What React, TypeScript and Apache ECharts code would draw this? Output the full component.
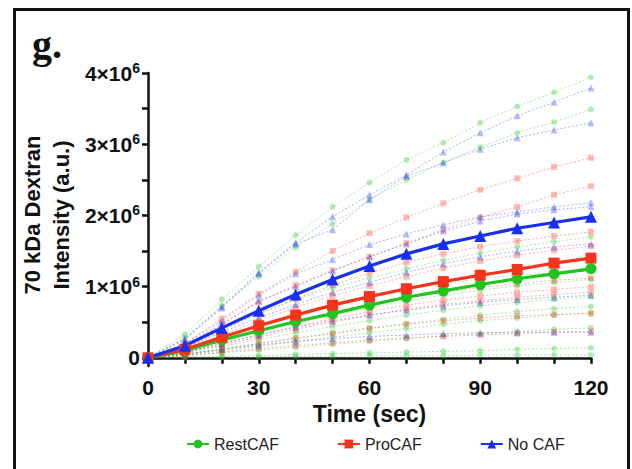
import React, { useEffect, useRef } from "react";
import * as echarts from "echarts";

// time points (sec)
const TIME = [0, 10, 20, 30, 40, 50, 60, 70, 80, 90, 100, 110, 120];
// values in millions (×10^6 a.u.)
const UNIT = 1e6;

const REST_MEAN = [0, 0.1, 0.25, 0.38, 0.51, 0.62, 0.74, 0.85, 0.94, 1.03, 1.11, 1.18, 1.25];
const PRO_MEAN = [0, 0.12, 0.29, 0.45, 0.6, 0.74, 0.86, 0.97, 1.07, 1.16, 1.24, 1.33, 1.4];
const NOCAF_MEAN = [0, 0.17, 0.42, 0.66, 0.89, 1.1, 1.29, 1.46, 1.6, 1.71, 1.82, 1.9, 1.98];

const REST_REPS = [
  [0, 0.33, 0.82, 1.28, 1.72, 2.12, 2.46, 2.78, 3.02, 3.3, 3.53, 3.73, 3.94],
  [0, 0.28, 0.73, 1.14, 1.55, 1.88, 2.22, 2.5, 2.74, 2.96, 3.16, 3.31, 3.49],
  [0, 0.16, 0.4, 0.62, 0.82, 0.98, 1.12, 1.25, 1.37, 1.47, 1.56, 1.63, 1.7],
  [0, 0.12, 0.3, 0.47, 0.62, 0.75, 0.87, 0.96, 1.04, 1.11, 1.16, 1.19, 1.22],
  [0, 0.09, 0.22, 0.36, 0.48, 0.6, 0.7, 0.8, 0.88, 0.95, 1.01, 1.06, 1.1],
  [0, 0.07, 0.16, 0.26, 0.35, 0.44, 0.52, 0.6, 0.67, 0.73, 0.78, 0.82, 0.86],
  [0, 0.05, 0.12, 0.2, 0.28, 0.35, 0.42, 0.48, 0.54, 0.6, 0.65, 0.69, 0.72],
  [0, 0.04, 0.1, 0.16, 0.23, 0.29, 0.35, 0.41, 0.47, 0.52, 0.56, 0.6, 0.63],
  [0, 0.03, 0.07, 0.11, 0.15, 0.19, 0.23, 0.27, 0.31, 0.34, 0.37, 0.4, 0.42],
  [0, 0.01, 0.02, 0.03, 0.05, 0.06, 0.07, 0.08, 0.09, 0.1, 0.12, 0.13, 0.14],
  [0, 0.0, 0.01, 0.01, 0.02, 0.02, 0.03, 0.03, 0.03, 0.04, 0.04, 0.04, 0.04],
];

const PRO_REPS = [
  [0, 0.2, 0.55, 0.9, 1.21, 1.5, 1.75, 1.97, 2.17, 2.36, 2.52, 2.68, 2.81],
  [0, 0.18, 0.48, 0.78, 1.02, 1.23, 1.42, 1.61, 1.8, 1.97, 2.12, 2.29, 2.41],
  [0, 0.14, 0.38, 0.62, 0.83, 1.02, 1.19, 1.34, 1.46, 1.56, 1.64, 1.71, 1.77],
  [0, 0.12, 0.32, 0.52, 0.71, 0.87, 1.01, 1.14, 1.26, 1.36, 1.44, 1.51, 1.57],
  [0, 0.1, 0.24, 0.38, 0.51, 0.63, 0.74, 0.84, 0.92, 0.99, 1.04, 1.09, 1.12],
  [0, 0.08, 0.2, 0.32, 0.44, 0.55, 0.65, 0.74, 0.81, 0.87, 0.92, 0.96, 1.0],
  [0, 0.07, 0.18, 0.29, 0.4, 0.5, 0.6, 0.68, 0.75, 0.8, 0.85, 0.89, 0.92],
  [0, 0.05, 0.12, 0.2, 0.27, 0.34, 0.41, 0.47, 0.52, 0.56, 0.59, 0.61, 0.62],
  [0, 0.03, 0.08, 0.13, 0.17, 0.21, 0.25, 0.28, 0.3, 0.32, 0.34, 0.36, 0.37],
];

const NOCAF_REPS = [
  [0, 0.27, 0.72, 1.2, 1.62, 1.98, 2.29, 2.57, 2.89, 3.16, 3.4, 3.59, 3.79],
  [0, 0.25, 0.7, 1.18, 1.6, 1.8, 2.22, 2.55, 2.74, 2.93, 3.09, 3.2, 3.3],
  [0, 0.2, 0.52, 0.88, 1.18, 1.38, 1.59, 1.74, 1.87, 1.98, 2.05, 2.12, 2.18],
  [0, 0.18, 0.46, 0.8, 1.0, 1.22, 1.42, 1.6, 1.78, 1.92, 2.02, 2.08, 2.12],
  [0, 0.14, 0.36, 0.56, 0.75, 0.92, 1.06, 1.2, 1.32, 1.42, 1.5, 1.56, 1.6],
  [0, 0.08, 0.2, 0.32, 0.43, 0.52, 0.6, 0.67, 0.73, 0.78, 0.82, 0.85, 0.88],
  [0, 0.05, 0.12, 0.18, 0.23, 0.27, 0.3, 0.32, 0.34, 0.35, 0.36, 0.36, 0.36],
];

const Y_LABELS = [0, 1, 2, 3, 4];
const Y_TICKS = [0, 0.5, 1, 1.5, 2, 2.5, 3, 3.5, 4];
const SERIES_NAMES = ["RestCAF", "ProCAF", "No CAF"];

const GREEN = "#22c41f";
const RED = "#f8331c";
const BLUE = "#1730ef";
const FONT = "'Liberation Sans', Arial, Helvetica, sans-serif";

const toPairs = (vals: number[]) => vals.map((v, i) => [TIME[i], v * UNIT]);

function repSeries(vals: number[], color: string, symbol: string, idx: number) {
  return {
    type: "line",
    name: "rep-" + color + "-" + idx,
    data: toPairs(vals),
    symbol,
    symbolSize: symbol === "triangle" ? 7 : 6,
    silent: true,
    z: 2,
    lineStyle: { color, width: 1, type: [2, 2], opacity: 0.38 },
    itemStyle: { color, opacity: 0.33 },
  };
}

function meanSeries(name: string, vals: number[], color: string, symbol: string, size: number) {
  return {
    type: "line",
    name,
    data: toPairs(vals),
    symbol,
    symbolSize: size,
    z: 10,
    lineStyle: { color, width: 3.2 },
    itemStyle: { color },
  };
}

export default function App() {
  const ref = useRef<HTMLDivElement>(null);
  useEffect(() => {
    if (!ref.current) return;
    const chart = echarts.init(ref.current, null, { renderer: "svg" });
    const series: any[] = [];
    REST_REPS.forEach((r, i) => series.push(repSeries(r, GREEN, "circle", i)));
    PRO_REPS.forEach((r, i) => series.push(repSeries(r, RED, "rect", i)));
    NOCAF_REPS.forEach((r, i) => series.push(repSeries(r, BLUE, "triangle", i)));
    series.push(meanSeries(SERIES_NAMES[0], REST_MEAN, GREEN, "circle", 11));
    series.push(meanSeries(SERIES_NAMES[1], PRO_MEAN, RED, "rect", 11));
    series.push(meanSeries(SERIES_NAMES[2], NOCAF_MEAN, BLUE, "triangle", 12));

    chart.setOption({
      animation: false,
      backgroundColor: "#ffffff",
      grid: { left: 148, right: 41, top: 73, bottom: 103 },
      xAxis: {
        type: "value",
        min: 0,
        max: 120,
        interval: 10,
        name: "Time (sec)",
        nameLocation: "middle",
        nameGap: 35,
        nameTextStyle: { fontSize: 23, fontWeight: "bold", color: "#111", fontFamily: FONT },
        axisLine: { lineStyle: { color: "#111", width: 2.5 } },
        axisTick: { length: 6, lineStyle: { color: "#111", width: 2.5 } },
        axisLabel: {
          margin: 11,
          fontSize: 21,
          fontWeight: "bold",
          color: "#111",
          fontFamily: FONT,
          formatter: (v: number) => (v % 30 === 0 ? String(v) : ""),
        },
        splitLine: { show: false },
      },
      yAxis: {
        type: "value",
        min: -0.115 * UNIT,
        max: 4 * UNIT,
        axisLine: { show: true, lineStyle: { color: "#111", width: 2.5 } },
        axisTick: {
          show: true,
          length: 6,
          lineStyle: { color: "#111", width: 2.5 },
          customValues: Y_TICKS.map((v) => v * UNIT),
        },
        axisLabel: {
          margin: 8,
          color: "#111",
          fontFamily: FONT,
          customValues: Y_LABELS.map((v) => v * UNIT),
          formatter: (v: number) => {
            const m = Math.round(v / UNIT);
            return m === 0 ? "{m|0}" : `{m|${m}×10}{s|6}`;
          },
          rich: {
            m: { fontSize: 21, fontWeight: "bold", color: "#111", fontFamily: FONT },
            s: { fontSize: 14, fontWeight: "bold", color: "#111", fontFamily: FONT, padding: [0, 0, 10, 0] },
          },
        },
        splitLine: { show: false },
      },
      legend: {
        data: SERIES_NAMES,
        left: 181,
        top: 431,
        itemGap: 58,
        itemWidth: 22,
        itemHeight: 11,
        textStyle: { fontSize: 16, color: "#222", fontFamily: FONT },
      },
      graphic: [
        {
          type: "rect",
          shape: { x: 14.5, y: 9.5, width: 614, height: 480 },
          style: { fill: "none", stroke: "#111", lineWidth: 3 },
          silent: true,
        },
        {
          type: "text",
          x: 32,
          y: 44,
          style: {
            text: "g.",
            fontSize: 40,
            fontWeight: "bold",
            fontFamily: "'Liberation Serif', 'DejaVu Serif', serif",
            fill: "#111",
            verticalAlign: "middle",
          },
        },
        {
          type: "text",
          x: 47,
          y: 215,
          rotation: Math.PI / 2,
          style: {
            text: "70 kDa Dextran\nIntensity (a.u.)",
            fontSize: 22,
            fontWeight: "bold",
            fontFamily: FONT,
            fill: "#111",
            align: "center",
            verticalAlign: "middle",
            lineHeight: 29,
          },
        },
      ],
      series,
    });
    return () => chart.dispose();
  }, []);
  return (
    <div
      ref={ref}
      style={{ position: "fixed", left: 0, top: 0, width: 632, height: 469, background: "#fff" }}
    />
  );
}
